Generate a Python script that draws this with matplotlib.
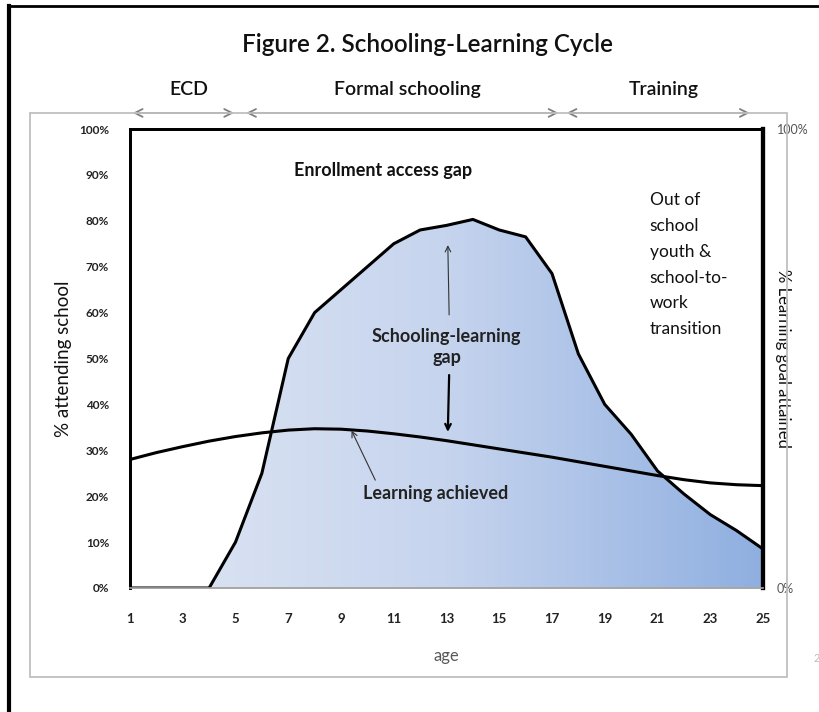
# -*- coding: utf-8 -*-
"""Schooling-Learning Cycle figure (attendance vs. learning by age)."""

import numpy as np
import matplotlib
matplotlib.use('Agg')
import matplotlib.pyplot as plt
from matplotlib.patches import Rectangle, FancyArrowPatch
from matplotlib.colors import LinearSegmentedColormap

plt.rcParams['font.family'] = ['Lato', 'DejaVu Sans']

# -- data ------------------------------------------------------------------
ages = [1, 2, 3, 4, 5, 6, 7, 8, 9, 10, 11, 12, 13,
        14, 15, 16, 17, 18, 19, 20, 21, 22, 23, 24, 25]
attending = [0, 0, 0, 0, 10, 25, 50, 60, 65, 70, 75, 78, 79,
             80.3, 78, 76.5, 68.5, 51, 40, 33.5, 25.5, 20.5, 16, 12.5, 8.5]
learning = [28, 29.5, 30.8, 32, 33, 33.8, 34.4, 34.7, 34.6, 34.2, 33.6, 32.9, 32.1,
            31.2, 30.3, 29.4, 28.5, 27.5, 26.5, 25.5, 24.5, 23.6, 22.9, 22.5, 22.3]
xticks = list(range(1, 26, 2))
yticks = list(range(0, 101, 10))
stages = ['ECD', 'Formal schooling', 'Training']
stage_bounds = [(1.0, 5.05), (5.3, 17.35), (17.45, 24.6)]

# -- figure ----------------------------------------------------------------
W, H = 820, 712
fig = plt.figure(figsize=(W / 100, H / 100), dpi=100)

def fx(px):
    return px / W

def fy(py):
    return 1 - py / H

ax = fig.add_axes([fx(130), fy(588), fx(763) - fx(130), fy(129) - fy(588)])
ax.set_xlim(1, 25)
ax.set_ylim(0, 100)

# gradient fill under attendance curve
cmap = LinearSegmentedColormap.from_list('blues', ['#dfe6f3', '#c6d4ee', '#8fafe0'])
grad = np.linspace(0, 1, 256).reshape(1, -1)
im = ax.imshow(grad, extent=[1, 25, 0, 100], aspect='auto', cmap=cmap,
               origin='lower', zorder=1)
poly = ax.fill_between(ages, 0, attending, facecolor='none', edgecolor='none')
clip = poly.get_paths()[0]
im.set_clip_path(clip, transform=ax.transData)

ax.plot(ages, attending, color='black', lw=2.2, zorder=3, solid_joinstyle='round')

# learning curve on the secondary axis (same 0-100 scale)
ax2 = ax.twinx()
ax2.set_ylim(0, 100)
ax2.plot(ages, learning, color='black', lw=2.2, zorder=3)

# spines
for a in (ax, ax2):
    a.spines['top'].set_linewidth(2)
    a.spines['left'].set_linewidth(2)
    a.spines['bottom'].set_color('#a6a6a6')
    a.spines['bottom'].set_linewidth(1.2)
    a.spines['right'].set_linewidth(3)

ax.set_xticks(xticks)
ax.set_xticklabels([str(t) for t in xticks], fontsize=9.5, fontweight='bold',
                   color='#222222')
ax.set_yticks(yticks)
ax.set_yticklabels([f'{t}%' for t in yticks], fontsize=8.5, fontweight='bold',
                   color='#222222')
ax.tick_params(axis='both', length=0)
ax.tick_params(axis='x', pad=18)
ax.tick_params(axis='y', pad=15)

ax2.set_yticks([0, 100])
ax2.set_yticklabels(['0%', '100%'], fontsize=9, color='#555555')
ax2.tick_params(axis='y', length=0, pad=10)
ax2.set_ylabel('% Learning goal attained', fontsize=12, color='#111111',
               rotation=270, labelpad=-8)
ax2.yaxis.set_label_coords(1.045, 0.5)

ax.set_ylabel('% attending school', fontsize=13.5, color='#111111')
ax.yaxis.set_label_coords(-0.092, 0.5)
ax.set_xlabel('age', fontsize=12, color='#595959')
ax.xaxis.set_label_coords(0.5, -0.13)

# annotations inside plot
ax2.text(10.6, 91, 'Enrollment access gap', ha='center', va='center',
         fontsize=13, fontweight='bold', color='#111111')
ax2.text(20.7, 86.2, 'Out of\nschool\nyouth &\nschool-to-\nwork\ntransition',
         ha='left', va='top', fontsize=12.5, color='#111111', linespacing=1.75)
ax2.text(13.0, 52.5, 'Schooling-learning\ngap', ha='center', va='center',
         fontsize=13, fontweight='bold', color='#222222', linespacing=1.3)
ax2.text(12.6, 20.5, 'Learning achieved', ha='center', va='center',
         fontsize=13, fontweight='bold', color='#222222')

ax2.annotate('', xy=(13.05, 74.7), xytext=(13.1, 59.5),
             arrowprops=dict(arrowstyle='->', color='#333333', lw=0.8,
                             shrinkA=0, shrinkB=0))
ax2.annotate('', xy=(13.05, 34.0), xytext=(13.1, 46.4),
             arrowprops=dict(arrowstyle='->', color='black', lw=1.6,
                             shrinkA=0, shrinkB=0))
ax2.annotate('', xy=(9.4, 34.3), xytext=(10.3, 23.5),
             arrowprops=dict(arrowstyle='->', color='#333333', lw=0.8,
                             shrinkA=0, shrinkB=0))

# stage arrows and labels above plot
for name, (x0, x1) in zip(stages, stage_bounds):
    arr = FancyArrowPatch((x0, 103.5), (x1, 103.5), arrowstyle='<->',
                          mutation_scale=14, color='#7f7f7f', lw=1.3,
                          transform=ax.transData, clip_on=False)
    ax.add_patch(arr)
    ax.text((x0 + x1) / 2 + 0.2, 108.7, name, ha='center', va='center',
            fontsize=14, fontweight='semibold', color='#111111', clip_on=False)

fig.text(fx(428), fy(45), 'Figure 2. Schooling-Learning Cycle', ha='center',
         va='center', fontsize=17.5, fontweight='semibold', color='#111111')

# chart area frame (gray) and page frame (black)
fig.patches.append(Rectangle((fx(30), fy(677)), fx(787) - fx(30), fy(113) - fy(677),
                             transform=fig.transFigure, fill=False,
                             edgecolor='#bfbfbf', lw=1.3, zorder=0))
fig.lines.append(plt.Line2D([fx(9), fx(9)], [0, fy(6)], transform=fig.transFigure,
                            color='black', lw=3))
fig.lines.append(plt.Line2D([fx(9), 1], [fy(6), fy(6)], transform=fig.transFigure,
                            color='black', lw=2))
fig.text(fx(814), fy(658), '2', ha='left', va='center', fontsize=8, color='#bbbbbb')

fig.savefig('out.png', dpi=100)
